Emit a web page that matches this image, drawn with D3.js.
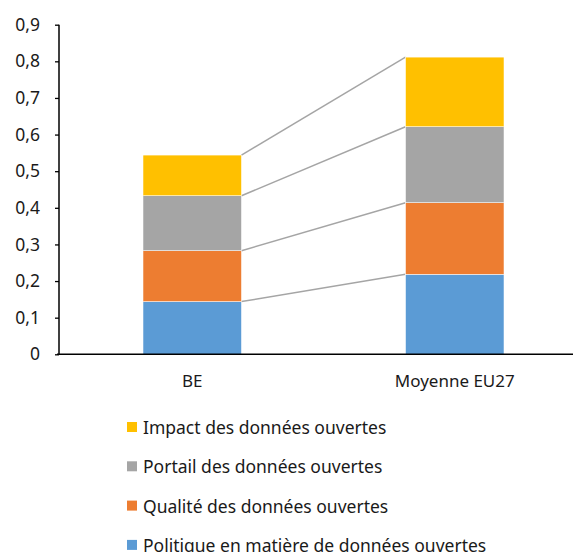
<!DOCTYPE html>
<html>
<head>
<meta charset="utf-8">
<script src="https://cdn.jsdelivr.net/npm/d3@7"></script>
<style>
  body { margin: 0; background: white; }
  text { font-family: "Noto Sans", sans-serif; fill: #1a1a1a; }
</style>
</head>
<body>
<svg id="chart" width="573" height="552"></svg>
<script>
// chart data
var categories = ["BE", "Moyenne EU27"];
var series = ["Politique en matière de données ouvertes", "Qualité des données ouvertes",
              "Portail des données ouvertes", "Impact des données ouvertes"];
var politique = [0.144, 0.2185];
var qualite   = [0.139, 0.1955];
var portail   = [0.150, 0.2075];
var impact    = [0.111, 0.190];
var yTicks = [0, 0.1, 0.2, 0.3, 0.4, 0.5, 0.6, 0.7, 0.8, 0.9];
var colors = ["#5b9bd5", "#ed7d31", "#a5a5a5", "#ffc000"];

var svg = d3.select("#chart");

// build rows for the stack
var rows = categories.map(function(c, i) {
    return { cat: c, s0: politique[i], s1: qualite[i], s2: portail[i], s3: impact[i] };
});
var stacked = d3.stack().keys(["s0", "s1", "s2", "s3"])(rows);

var x = d3.scaleBand()
    .domain(categories)
    .range([59, 588])
    .paddingInner(0.625)
    .paddingOuter(0.32);

var y = d3.scaleLinear()
    .domain([0, 0.9])
    .range([354.3, 24.7]);

// connector lines between the bars
var linesG = svg.append("g");
stacked.forEach(function(layer) {
    var x1 = x(categories[0]) + x.bandwidth();
    var x2 = x(categories[1]);
    linesG.append("line")
        .attr("x1", x1).attr("y1", y(layer[0][1]))
        .attr("x2", x2).attr("y2", y(layer[1][1]))
        .attr("stroke", "#a5a5a5")
        .attr("stroke-width", 1.5);
});

// bars
stacked.forEach(function(layer, k) {
    svg.append("g").selectAll("rect")
        .data(layer)
        .enter().append("rect")
        .attr("x", function(d) { return x(d.data.cat); })
        .attr("y", function(d) { return y(d[1]); })
        .attr("width", x.bandwidth())
        .attr("height", function(d) { return y(d[0]) - y(d[1]); })
        .attr("fill", colors[k])
        .attr("stroke", "white")
        .attr("stroke-width", 0.5);
});

// y axis
var yAxis = d3.axisLeft(y)
    .tickValues(yTicks)
    .tickSize(4)
    .tickPadding(15)
    .tickFormat(function(d) { return d === 0 ? "0" : d3.format(".1f")(d).replace(".", ","); });
var yg = svg.append("g").attr("transform", "translate(59,0)").call(yAxis);
yg.select(".domain").attr("stroke", "#000").attr("stroke-width", 1.5).attr("d", "M0," + y(0.9) + "V" + y(0));
yg.selectAll(".tick line").attr("stroke", "#000").attr("stroke-width", 1.3);
yg.selectAll(".tick text").style("font-size", "17.5px").style("font-family", "Noto Sans").attr("fill", "#1a1a1a");

// x axis line
svg.append("line")
    .attr("x1", 57).attr("x2", 573)
    .attr("y1", y(0)).attr("y2", y(0))
    .attr("stroke", "#000").attr("stroke-width", 1.5);

// category labels
svg.append("g").selectAll("text")
    .data(categories)
    .enter().append("text")
    .attr("x", function(d) { return x(d) + x.bandwidth() / 2; })
    .attr("y", 387)
    .attr("text-anchor", "middle")
    .style("font-size", "17px")
    .text(function(d) { return d; });

// legend (top to bottom: reverse order)
var legendItems = series.map(function(s, i) { return { name: s, color: colors[i] }; }).reverse();
var legend = svg.append("g").selectAll("g")
    .data(legendItems)
    .enter().append("g")
    .attr("transform", function(d, i) { return "translate(127," + (422 + i * 39.3) + ")"; });
legend.append("rect")
    .attr("width", 10).attr("height", 10)
    .attr("fill", function(d) { return d.color; });
legend.append("text")
    .attr("x", 16).attr("y", 12)
    .style("font-size", "17.5px")
    .text(function(d) { return d.name; });
</script>
</body>
</html>
